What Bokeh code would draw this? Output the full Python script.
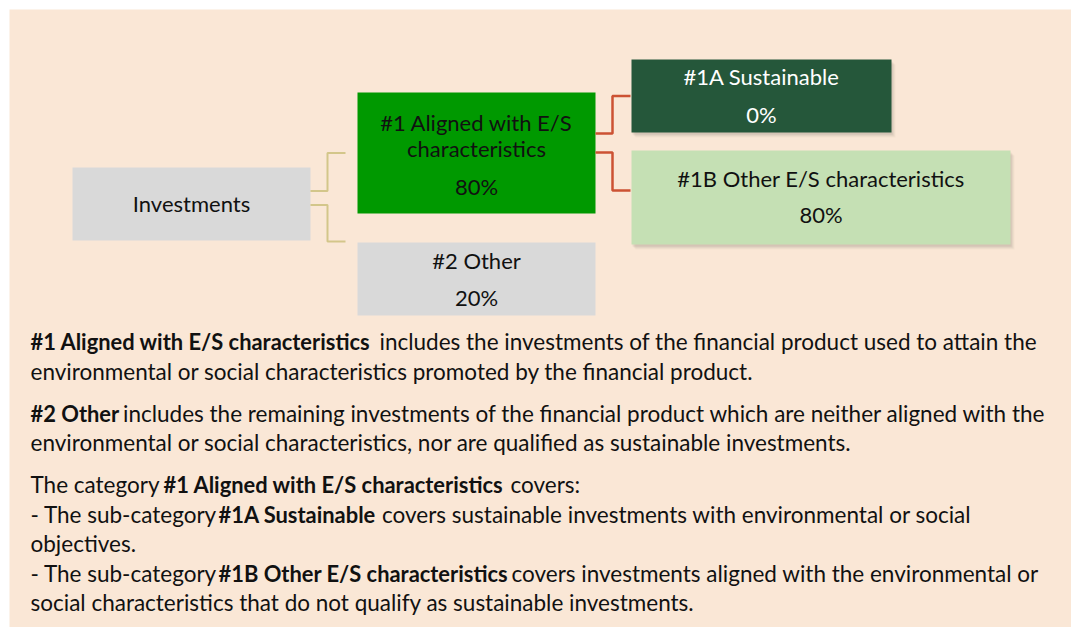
from bokeh.plotting import figure
from bokeh.models import Range1d, ColumnDataSource
from bokeh.core.properties import value
from bokeh.embed import file_html
from bokeh.resources import INLINE

# ---------------- data ----------------
categories = ["Investments", "#1 Aligned with E/S characteristics", "#2 Other",
              "#1A Sustainable", "#1B Other E/S characteristics"]
box_lines = [["Investments"], ["#1 Aligned with E/S", "characteristics"], ["#2 Other"],
             ["#1A Sustainable"], ["#1B Other E/S characteristics"]]
shares = [None, 80, 20, 0, 80]

para_segments = [
    [(True, "#1 Aligned with E/S characteristics"), (False, "includes the investments of the financial product used to attain the")],
    [(False, "environmental or social characteristics promoted by the financial product.")],
    [(True, "#2 Other"), (False, "includes the remaining investments of the financial product which are neither aligned with the")],
    [(False, "environmental or social characteristics, nor are qualified as sustainable investments.")],
    [(False, "The category"), (True, "#1 Aligned with E/S characteristics"), (False, "covers:")],
    [(False, "- The sub-category"), (True, "#1A Sustainable"), (False, "covers sustainable investments with environmental or social")],
    [(False, "objectives.")],
    [(False, "- The sub-category"), (True, "#1B Other E/S characteristics"), (False, "covers investments aligned with the environmental or")],
    [(False, "social characteristics that do not qualify as sustainable investments.")],
]

# ---------------- layout / style ----------------
W, H = 1071, 627
BG = "#FAE7D6"
PANEL = (9, 9)  # top-left of the beige panel
box_layout = [  # left, top, right, bottom (px)
    (72, 167, 310, 240),
    (357, 92, 595, 213),
    (357, 242, 595, 315),
    (631, 59, 891, 132),
    (631, 150, 1010, 244),
]
box_fill = ["#D9D9D9", "#009900", "#D9D9D9", "#25573A", "#C5E0B4"]
box_text_color = ["#111111", "#111111", "#111111", "#FFFFFF", "#111111"]
box_shadow = [False, False, False, True, True]
box_text_y = [[203], [121.5, 148], [260], [76], [177.5]]
box_pct_y = [None, 186, 297, 114, 214]

para_y = [340.7, 370.7, 413.3, 442.3, 484.3, 514, 543.3, 573.3, 601.7]
para_x = [[30, 379], [30], [30, 122.5], [30], [30, 163, 510], [30, 218, 381.5], [30], [30, 218, 511], [30]]

FONT = "Lato"
BOX_FS = "22px"
PARA_FS = "22.5px"
PARA_BOLD_FS = "21.9px"

p = figure(width=W, height=H, output_backend="svg", toolbar_location=None,
           x_range=Range1d(0, W), y_range=Range1d(H, 0),
           min_border=0, background_fill_color="white", border_fill_color="white",
           outline_line_color=None)
p.axis.visible = False
p.grid.visible = False

# beige panel
p.quad(left=PANEL[0], right=W + 20, top=PANEL[1], bottom=H + 20, fill_color=BG, line_color=None)

# shadows
for (l, t, r, b), sh in zip(box_layout, box_shadow):
    if sh:
        for k, a in [(5, 0.05), (4, 0.07), (3, 0.09), (2, 0.1)]:
            p.quad(left=l + k - 1, right=r + k - 1, top=t + k, bottom=b + k,
                   fill_color="#7F6F60", fill_alpha=a, line_color=None)

# boxes
src = ColumnDataSource(dict(
    left=[b[0] for b in box_layout], right=[b[2] for b in box_layout],
    top=[b[1] for b in box_layout], bottom=[b[3] for b in box_layout],
    fill=box_fill, name=categories))
p.quad(left="left", right="right", top="top", bottom="bottom", fill_color="fill",
       line_color=None, source=src)

# connectors (derived from box edges)
inv, b1, b2, b1a, b1b = box_layout
inv_cy = (inv[1] + inv[3]) / 2
tan = "#D3C68A"
ex = inv[2] + 17
p.line([inv[2], ex, ex, b1[0] - 12], [inv_cy - 13, inv_cy - 13, (b1[1] + b1[3]) / 2, (b1[1] + b1[3]) / 2],
       line_color=tan, line_width=2)
p.line([inv[2], ex, ex, b2[0] - 12], [inv_cy + 1, inv_cy + 1, b2[1] - 1, b2[1] - 1],
       line_color=tan, line_width=2)
red = "#CC5233"
rx = b1[2] + 17
ya = (b1a[1] + b1a[3]) / 2
p.line([b1[2], rx, rx, b1a[0] - 1], [b1[1] + 41, b1[1] + 41, ya, ya], line_color=red, line_width=2.5)
p.line([b1[2], rx, rx, b1b[0] - 1], [b1[1] + 60, b1[1] + 60, b1b[1] + 40, b1b[1] + 40],
       line_color=red, line_width=2.5)

# box texts
tx, ty, tt, tc = [], [], [], []
for i, (l, t, r, b) in enumerate(box_layout):
    cx = (l + r) / 2
    for line, yy in zip(box_lines[i], box_text_y[i]):
        tx.append(cx); ty.append(yy); tt.append(line); tc.append(box_text_color[i])
    if shares[i] is not None:
        tx.append(cx); ty.append(box_pct_y[i]); tt.append(f"{shares[i]}%"); tc.append(box_text_color[i])
p.text(x=tx, y=ty, text=tt, text_color=tc, text_align="center", text_baseline="middle",
       text_font=value(FONT), text_font_size=BOX_FS)

# paragraphs
px, py, pt, ps, pf = [], [], [], [], []
for li, segs in enumerate(para_segments):
    for (bold, txt), xx in zip(segs, para_x[li]):
        px.append(xx); py.append(para_y[li]); pt.append(txt)
        ps.append("bold" if bold else "normal")
        pf.append(PARA_BOLD_FS if bold else PARA_FS)
psrc = ColumnDataSource(dict(x=px, y=py, text=pt, style=ps, fs=pf))
p.text(x="x", y="y", text="text", text_font_style="style", text_font_size="fs", source=psrc,
       text_color="#111111", text_align="left", text_baseline="middle",
       text_font=value(FONT))

open("out.html", "w").write(file_html(p, INLINE))
